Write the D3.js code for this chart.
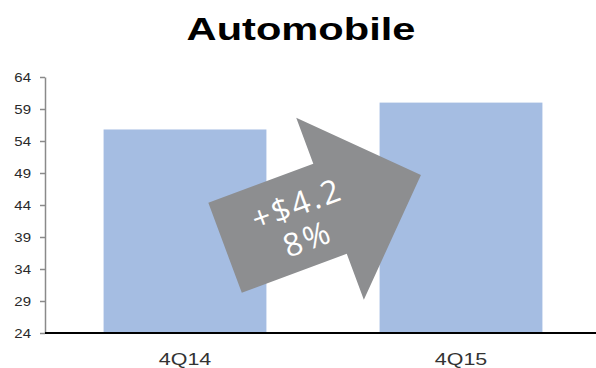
<!DOCTYPE html>
<html>
<head>
<meta charset="utf-8">
<script src="https://cdn.jsdelivr.net/npm/d3@7"></script>
<style>
  html, body { margin: 0; padding: 0; background: #fff; }
  svg { display: block; }
</style>
</head>
<body>
<svg id="chart" width="596" height="368"></svg>
<script>
// Quarterly automobile revenue
const categories = ["4Q14", "4Q15"];
const values = [55.8, 60.0];
const yTicks = [24, 29, 34, 39, 44, 49, 54, 59, 64];
const yDomain = [24, 64];
const title = "Automobile";

const W = 596, H = 368;
const svg = d3.select("#chart");
const sx = 1.3; // horizontal text stretch

const x = d3.scaleBand().domain(categories).range([47, 599])
  .paddingInner(0.41).paddingOuter(0.205);
const y = d3.scaleLinear().domain(yDomain).range([333, 77]);

// Title
svg.append("text")
  .attr("transform", `translate(${W / 2 + 3},40) scale(${sx},1)`)
  .attr("text-anchor", "middle")
  .attr("font-family", "Liberation Sans, Arial, sans-serif")
  .attr("font-weight", "bold")
  .attr("font-size", 32)
  .attr("fill", "#000")
  .text(title);

// Bars
svg.append("g").selectAll("rect")
  .data(categories.map((c, i) => ({ c, v: values[i] })))
  .join("rect")
  .attr("x", d => x(d.c))
  .attr("width", x.bandwidth())
  .attr("y", d => y(d.v))
  .attr("height", d => y(yDomain[0]) - y(d.v))
  .attr("fill", "#a5bde2");

// Y axis
const yAxis = svg.append("g")
  .attr("transform", "translate(45,0)")
  .call(d3.axisLeft(y).tickValues(yTicks).tickSize(5).tickPadding(0).tickSizeOuter(0));
yAxis.select(".domain").attr("stroke", "#8a8a8a").attr("stroke-width", 1.5);
yAxis.selectAll(".tick line").attr("stroke", "#8a8a8a").attr("stroke-width", 1.5);
yAxis.selectAll(".tick text").remove();
yAxis.selectAll(".tick").append("text")
  .attr("transform", `translate(-14,0) scale(1.2,1)`)
  .attr("text-anchor", "end")
  .attr("dy", "0.36em")
  .attr("font-family", "Liberation Sans, Arial, sans-serif")
  .attr("font-size", 12.5)
  .attr("fill", "#2a2a2a")
  .text(d => d);

// X axis baseline
svg.append("line")
  .attr("x1", 45).attr("x2", W)
  .attr("y1", y(yDomain[0])).attr("y2", y(yDomain[0]))
  .attr("stroke", "#000").attr("stroke-width", 2.2);

// Category labels
svg.append("g").selectAll("text")
  .data(categories)
  .join("text")
  .attr("transform", d => `translate(${x(d) + x.bandwidth() / 2},365) scale(${sx},1)`)
  .attr("text-anchor", "middle")
  .attr("font-family", "Liberation Sans, Arial, sans-serif")
  .attr("font-size", 16.5)
  .attr("fill", "#333")
  .text(d => d);

// Growth arrow between the bars
const diff = values[1] - values[0];
const pct = Math.round(diff / values[0] * 100);
const gapMid = (x(categories[0]) + x.bandwidth() + x(categories[1])) / 2;
const arrowY = y(43);
const L = 209, shaft = 48, head = 97, headBase = 7.5;
const pts = [
  [-L / 2, -shaft], [headBase, -shaft], [headBase, -head], [L / 2, 0],
  [headBase, head], [headBase, shaft], [-L / 2, shaft]
];
const arrow = svg.append("g")
  .attr("transform", `translate(${gapMid},${arrowY}) rotate(-20.4)`);
arrow.append("path")
  .attr("d", d3.line()(pts) + "Z")
  .attr("fill", "#8d8e90");
const lab = arrow.append("g")
  .attr("font-family", "Open Sans, sans-serif")
  .attr("font-weight", 400)
  .attr("font-size", 32)
  .attr("fill", "#fff")
  .attr("text-anchor", "middle")
  .attr("letter-spacing", 2.5);
lab.append("text").attr("x", -22).attr("y", -16).attr("dy", "0.36em")
  .text("+$" + d3.format(".1f")(diff));
lab.append("text").attr("x", -24).attr("y", 20).attr("dy", "0.36em")
  .text(pct + "%");
</script>
</body>
</html>
